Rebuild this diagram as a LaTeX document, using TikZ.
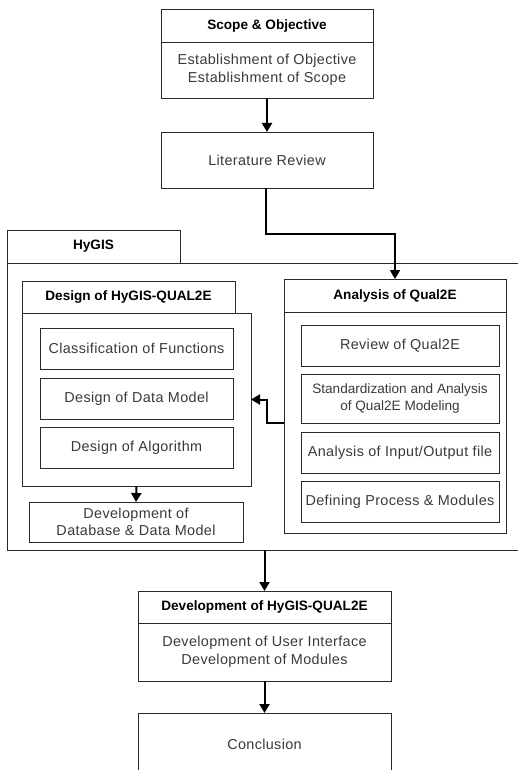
\documentclass[tikz,border=0pt]{standalone}
\usepackage{fontspec}
\setmainfont{Liberation Sans}
\newfontfamily\bodyfont[LetterSpace=2.5]{Liberation Sans}
\usetikzlibrary{arrows.meta}
\definecolor{bodytxt}{HTML}{3A3A3A}
\definecolor{edge}{HTML}{2A2A2A}
\tikzset{
  box/.style={draw=edge, line width=0.9pt, fill=white, inner sep=0pt, outer sep=0pt, align=center,
    text=bodytxt, font=\bodyfont\fontsize{14.4}{18.5}\selectfont},
  head/.style={box, text=black, font=\bfseries\fontsize{13.6}{16}\selectfont},
  arr/.style={line width=2pt, black, -{Triangle[width=10pt,length=9pt]}},
}
\begin{document}
\begin{tikzpicture}[x=1pt,y=-1pt]
\useasboundingbox (0,0) rectangle (518,770);
\clip (0,0) rectangle (518,770);
\fill[white] (0,0) rectangle (518,770);

% Scope & Objective
\node[head, minimum width=212pt, minimum height=33pt] (scopeH) at (267,25.5) {Scope \& Objective};
\node[box, minimum width=212pt, minimum height=56pt] (scopeB) at (267,70) {Establishment of Objective\\Establishment of Scope};

% Literature review
\node[box, minimum width=212pt, minimum height=56pt] (lit) at (267,160) {Literature Review};

% HyGIS container
\node[head, minimum width=173pt, minimum height=33pt] (hygisT) at (93.5,246.5) {HyGIS};
\node[box, minimum width=523pt, minimum height=287pt] (hygis) at (268.5,406.5) {};

% Design of HyGIS-QUAL2E
\node[head, minimum width=213pt, minimum height=32pt] (desH) at (128.5,297) {Design of HyGIS-QUAL2E};
\node[box, minimum width=229pt, minimum height=173pt] (desB) at (136.5,399.5) {};
\node[box, minimum width=193pt, minimum height=41pt] (cls) at (136.5,348.5) {Classification of Functions};
\node[box, minimum width=193pt, minimum height=41pt] (dm) at (136.5,398.5) {Design of Data Model};
\node[box, minimum width=193pt, minimum height=41pt] (alg) at (136.5,447.5) {Design of Algorithm};
\node[box, minimum width=214pt, minimum height=40pt, font=\bodyfont\fontsize{14.4}{17.5}\selectfont] (db) at (136,522) {Development of\\Database \& Data Model};

% Analysis of Qual2E
\node[head, minimum width=222pt, minimum height=33pt] (anaH) at (395,295.5) {Analysis of Qual2E};
\node[box, minimum width=222pt, minimum height=221pt] (anaB) at (395,422.5) {};
\node[box, minimum width=198pt, minimum height=41pt] (rev) at (400,345.5) {Review of Qual2E};
\node[box, minimum width=198pt, minimum height=49pt, font=\fontsize{13.6}{16.5}\selectfont] (std) at (400,398.5) {Standardization and Analysis\\of Qual2E Modeling};
\node[box, minimum width=198pt, minimum height=41pt] (io) at (400,452.5) {Analysis of Input/Output file};
\node[box, minimum width=198pt, minimum height=41pt] (def) at (400,501.5) {Defining Process \& Modules};

% Development of HyGIS-QUAL2E
\node[head, minimum width=253pt, minimum height=32pt] (devH) at (264.5,607) {Development of HyGIS-QUAL2E};
\node[box, minimum width=253pt, minimum height=58pt] (devB) at (264.5,652) {Development of User Interface\\Development of Modules};

% Conclusion
\node[box, minimum width=253pt, minimum height=62pt] (con) at (264.5,744) {Conclusion};

% Connectors
\draw[arr] (scopeB.south) -- (lit.north);
\draw[arr] ([xshift=-1pt]lit.south) -- ++(0,46) -| (anaH.north);
\draw[arr] (anaB.west) -- ++(-17,0) |- (desB.east);
\draw[arr] (desB.south) -- (db.north);
\draw[arr] (devH.north |- hygis.south) -- (devH.north);
\draw[arr] (devB.south) -- (con.north);
\end{tikzpicture}
\end{document}
